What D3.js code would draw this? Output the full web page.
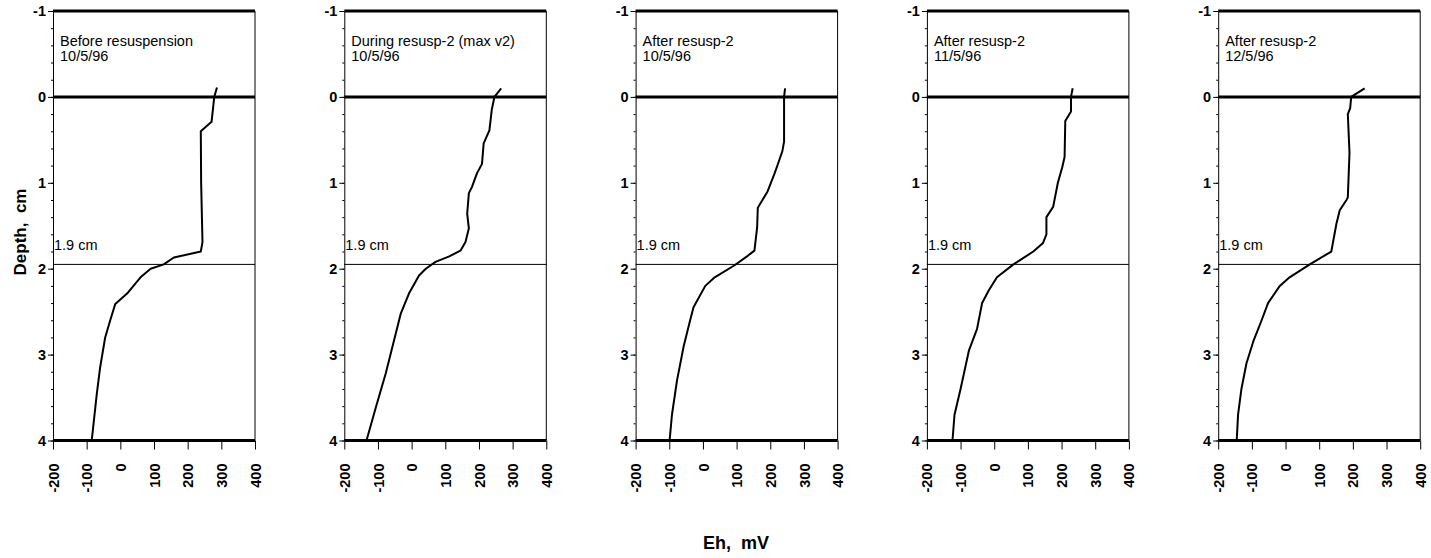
<!DOCTYPE html>
<html>
<head>
<meta charset="utf-8">
<script src="https://cdn.jsdelivr.net/npm/d3@7"></script>
<style>
  body { margin: 0; background: #fff; }
  svg { font-family: "Liberation Sans", Arial, Helvetica, sans-serif; }
</style>
</head>
<body>
<svg id="drawing_region"></svg>
<script>
// panel captions
const titles = ['Before resuspension', 'During resusp-2 (max v2)', 'After resusp-2', 'After resusp-2', 'After resusp-2'];
const dates = ['10/5/96', '10/5/96', '10/5/96', '11/5/96', '12/5/96'];

// Eh (mV) against depth (cm), one pair of arrays per panel
const depth1 = [-0.11, 0, 0.29, 0.40, 1.0, 1.69, 1.80, 1.87, 1.95, 2.0, 2.10, 2.29, 2.41, 2.60, 2.80, 3.15, 3.46, 4.0];
const eh1    = [287, 279, 271, 239, 240, 244, 239, 159, 129, 90, 60, 20, -15, -30, -45, -60, -70, -85];

const depth2 = [-0.10, 0, 0.15, 0.39, 0.54, 0.78, 0.89, 1.05, 1.12, 1.36, 1.53, 1.69, 1.79, 1.86, 1.92, 2.0, 2.08, 2.29, 2.52, 2.83, 3.22, 3.61, 4.0];
const eh2    = [266, 246, 238, 231, 214, 209, 194, 179, 170, 165, 170, 160, 145, 110, 71, 42, 22, -8, -32, -52, -77, -106, -134];

const depth3 = [-0.10, 0, 0.52, 0.63, 0.79, 0.90, 1.10, 1.29, 1.52, 1.79, 1.85, 1.96, 2.10, 2.20, 2.45, 2.60, 2.90, 3.30, 3.70, 4.0];
const eh3    = [244, 241, 241, 236, 222, 212, 192, 163, 161, 153, 133, 94, 35, 7, -28, -38, -57, -77, -92, -99];

const depth4 = [-0.10, 0, 0.17, 0.28, 0.70, 0.82, 1.0, 1.28, 1.40, 1.60, 1.70, 1.80, 1.95, 2.10, 2.25, 2.40, 2.70, 2.95, 3.40, 3.70, 4.0];
const eh4    = [233, 228, 228, 211, 209, 202, 189, 175, 155, 155, 145, 116, 57, 8, -16, -36, -51, -75, -100, -118, -124];

const depth5 = [-0.10, 0, 0.13, 0.20, 0.65, 1.17, 1.20, 1.32, 1.48, 1.80, 1.95, 2.10, 2.20, 2.40, 2.60, 2.85, 3.10, 3.40, 3.70, 4.0];
const eh5    = [235, 195, 192, 185, 190, 185, 181, 161, 151, 136, 72, 12, -17, -52, -71, -96, -116, -131, -141, -145];

const depths = [depth1, depth2, depth3, depth4, depth5];
const ehs = [eh1, eh2, eh3, eh4, eh5];

const xTicks = [-200, -100, 0, 100, 200, 300, 400];
const yTicks = [-1, 0, 1, 2, 3, 4];
const boldLines = [-1, 0, 4];   // heavy horizontal rules
const markDepth = 1.95;         // "1.9 cm" reference line
const markLabel = '1.9 cm';

const config = {
    width: 1431,
    height: 558,
    left: 53,
    step: 291.3,
    panelWidth: 202,
    top: 11,
    bottom: 440.5
};

const svg = d3.select('#drawing_region')
    .attr('width', config.width)
    .attr('height', config.height);

const xscale = d3.scaleLinear().domain([-200, 400]).range([0, config.panelWidth]);
const yscale = d3.scaleLinear().domain([-1, 4]).range([config.top, config.bottom]);

const line = d3.line()
    .x(d => xscale(d.eh))
    .y(d => yscale(d.depth));

// plain hyphen for negatives, like the original
const fmt = d => String(d);

titles.forEach((title, i) => {
    const g = svg.append('g')
        .attr('transform', `translate(${config.left + i * config.step}, 0)`);

    // minor ticks on the depth axis
    const minor = d3.range(-1, 4.001, 0.2);
    g.append('g')
        .call(d3.axisLeft(yscale).tickValues(minor).tickSize(2).tickFormat(''))
        .call(s => s.select('.domain').remove());

    // major depth axis
    const ya = g.append('g')
        .call(d3.axisLeft(yscale).tickValues(yTicks).tickFormat(fmt)
            .tickSize(5).tickSizeOuter(0).tickPadding(2));
    ya.select('.domain').attr('stroke-width', 1);
    ya.selectAll('text')
        .style('font-size', '14.5px')
        .style('font-weight', 'bold')
        .attr('fill', '#000');

    // right border
    g.append('line')
        .attr('x1', config.panelWidth).attr('x2', config.panelWidth)
        .attr('y1', yscale(-1)).attr('y2', yscale(4))
        .attr('stroke', '#000').attr('stroke-width', 1);

    // Eh axis
    const xa = g.append('g')
        .attr('transform', `translate(0, ${yscale(4)})`)
        .call(d3.axisBottom(xscale).tickValues(xTicks).tickFormat(fmt).tickSize(9).tickSizeOuter(0));
    xa.select('.domain').remove();
    xa.selectAll('text')
        .attr('x', 0).attr('y', 0).attr('dy', '0.35em')
        .attr('transform', 'translate(0, 23) rotate(-90)')
        .style('text-anchor', 'end')
        .style('font-size', '14.5px')
        .style('font-weight', 'bold')
        .attr('fill', '#000');

    // heavy rules
    g.selectAll('.rule')
        .data(boldLines)
        .join('line')
        .attr('x1', 0).attr('x2', config.panelWidth)
        .attr('y1', d => yscale(d)).attr('y2', d => yscale(d))
        .attr('stroke', '#000').attr('stroke-width', 3);

    // reference line
    g.append('line')
        .attr('x1', 0).attr('x2', config.panelWidth)
        .attr('y1', yscale(markDepth)).attr('y2', yscale(markDepth))
        .attr('stroke', '#000').attr('stroke-width', 1);
    g.append('text')
        .attr('x', 1).attr('y', yscale(markDepth) - 14)
        .style('font-size', '14.5px')
        .text(markLabel);

    // caption
    g.append('text')
        .attr('x', 7).attr('y', 46)
        .style('font-size', '14.5px')
        .text(title);
    g.append('text')
        .attr('x', 7).attr('y', 61)
        .style('font-size', '14.5px')
        .text(dates[i]);

    // profile
    const data = depths[i].map((d, j) => ({ depth: d, eh: ehs[i][j] }));
    g.append('path')
        .datum(data)
        .attr('d', line)
        .attr('fill', 'none')
        .attr('stroke', '#000')
        .attr('stroke-width', 2)
        .attr('stroke-linejoin', 'round');
});

// axis titles
svg.append('text')
    .attr('transform', `translate(26, 232) rotate(-90)`)
    .style('text-anchor', 'middle')
    .style('font-size', '17px')
    .style('font-weight', 'bold')
    .style('white-space', 'pre')
    .text('Depth,  cm');

svg.append('text')
    .attr('x', 736).attr('y', 549)
    .style('text-anchor', 'middle')
    .style('font-size', '18px')
    .style('font-weight', 'bold')
    .style('white-space', 'pre')
    .text('Eh,  mV');
</script>
</body>
</html>
